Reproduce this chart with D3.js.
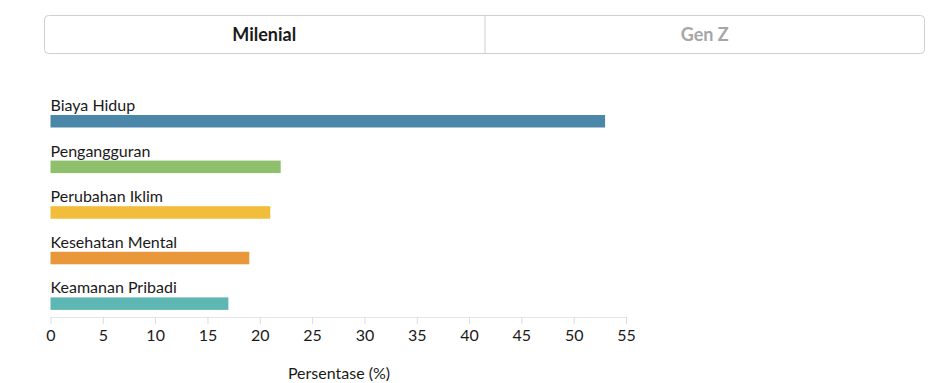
<!DOCTYPE html>
<html>
<head>
<meta charset="utf-8">
<script src="https://cdn.jsdelivr.net/npm/d3@7"></script>
<style>
  body { margin: 0; background: #fff; }
  svg { font-family: Lato, "Open Sans", sans-serif; }
</style>
</head>
<body>
<svg width="943" height="383"></svg>
<script>
var tabs = ["Milenial", "Gen Z"];
var categories = ["Biaya Hidup", "Pengangguran", "Perubahan Iklim", "Kesehatan Mental", "Keamanan Pribadi"];
var values = [53, 22, 21, 19, 17];
var colors = ["#4a87a9", "#8ebf6a", "#f1bd3b", "#e8983b", "#5fb7b4"];
var ticks = [0, 5, 10, 15, 20, 25, 30, 35, 40, 45, 50, 55];
var axisTitle = "Persentase (%)";

var svg = d3.select("svg");

// tab switcher on top
var tabX = d3.scaleBand().domain(tabs).range([44, 925]);
var tabG = svg.append("g");
tabG.append("rect")
    .attr("x", 44.5).attr("y", 15.5)
    .attr("width", 880).attr("height", 38)
    .attr("rx", 4)
    .attr("fill", "#fff")
    .attr("stroke", "#cfcfcf");
tabG.append("line")
    .attr("x1", tabX("Gen Z") + 0.5).attr("x2", tabX("Gen Z") + 0.5)
    .attr("y1", 16).attr("y2", 53)
    .attr("stroke", "#cfcfcf");
tabG.selectAll("text")
    .data(tabs)
    .enter()
    .append("text")
    .attr("x", function(d) { return tabX(d) + tabX.bandwidth() / 2; })
    .attr("y", 41)
    .attr("text-anchor", "middle")
    .attr("font-size", 18)
    .attr("font-weight", "bold")
    .attr("fill", function(d, i) { return i === 0 ? "#1a1a1a" : "#a6a6a6"; })
    .text(function(d) { return d; });

// bars
var x = d3.scaleLinear().domain([0, 55]).range([50.5, 626]);
var y = d3.scaleBand().domain(categories).range([97, 325]).paddingInner(0);

var row = svg.selectAll(".row")
    .data(categories)
    .enter()
    .append("g")
    .attr("class", "row")
    .attr("transform", function(d) { return "translate(0," + y(d) + ")"; });

row.append("rect")
    .attr("x", x(0))
    .attr("y", 18)
    .attr("height", 12.5)
    .attr("width", function(d, i) { return x(values[i]) - x(0); })
    .attr("fill", function(d, i) { return colors[i]; });

row.append("text")
    .attr("x", x(0))
    .attr("y", 14)
    .attr("font-size", 16)
    .attr("fill", "#1a1a1a")
    .text(function(d) { return d; });

// axis
var axis = svg.append("g")
    .attr("transform", "translate(0,317)")
    .call(d3.axisBottom(x).tickValues(ticks).tickSize(7).tickSizeOuter(0));
axis.select(".domain").attr("stroke", "#e6e6e6");
axis.selectAll(".tick line").attr("stroke", "#dcdcdc");
axis.selectAll(".tick text")
    .attr("font-family", "Lato, sans-serif")
    .attr("font-size", 16)
    .attr("fill", "#1a1a1a")
    .attr("dy", "0.85em");

svg.append("text")
    .attr("x", 339)
    .attr("y", 379)
    .attr("text-anchor", "middle")
    .attr("font-size", 16)
    .attr("fill", "#1a1a1a")
    .text(axisTitle);
</script>
</body>
</html>
